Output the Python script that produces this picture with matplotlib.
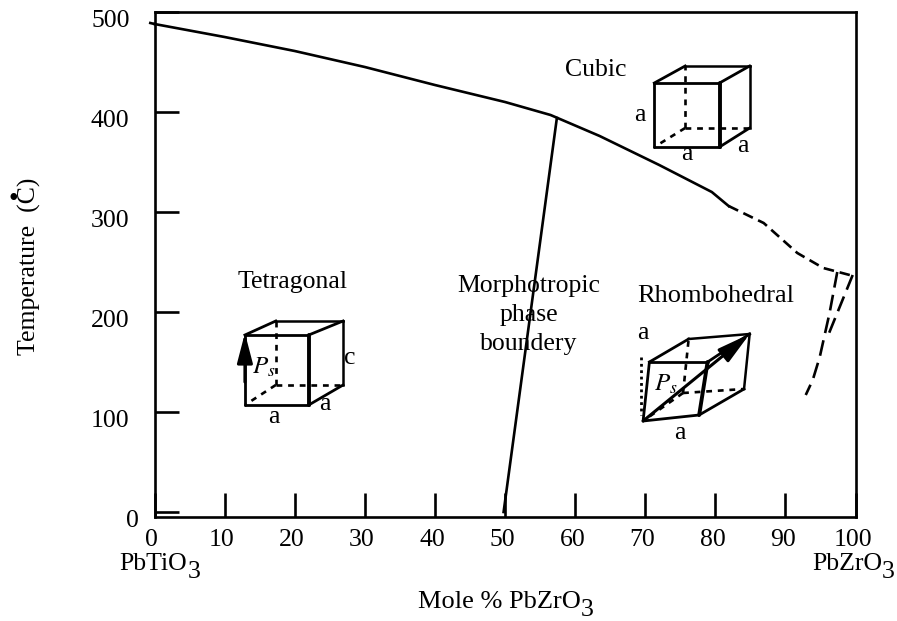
import matplotlib
matplotlib.use("Agg")
import matplotlib.pyplot as plt
from matplotlib.transforms import ScaledTranslation

plt.rcParams['font.family'] = ['Liberation Serif', 'DejaVu Serif']

# phase boundaries (mole % PbZrO3, temperature in C)
curie_x = [0, 10, 20, 30, 40, 50, 56.5, 63.5, 72, 79.5, 81.9]
curie_y = [488, 475, 461, 445, 427, 410, 397, 376, 347, 320, 306]
curie_dash_x = [81.9, 86.9, 91.7, 95.4, 99.7]
curie_dash_y = [306, 289, 259, 244, 236]
mpb_x = [49.8, 57.4]
mpb_y = [0, 394]
afe_a_x = [97.4, 96.3, 94.9, 93.9, 92.9]
afe_a_y = [240, 199, 155, 132, 117]
afe_b_x = [99.6, 96.0]
afe_b_y = [237, 175]

x_ticks = [0, 10, 20, 30, 40, 50, 60, 70, 80, 90, 100]
y_ticks = [0, 100, 200, 300, 400, 500]

# unit cell sketches: front tl, tr, br, bl then back tl, tr, br, bl
cubic_front = [(71.3, 429), (80.6, 429), (80.6, 365), (71.3, 365)]
cubic_back = [(75.7, 446), (84.9, 446), (84.9, 384), (75.7, 384)]
tetra_front = [(12.9, 177), (22.0, 177), (22.0, 107), (12.9, 107)]
tetra_back = [(17.3, 191), (26.9, 191), (26.9, 127), (17.3, 127)]
rhomb_front = [(70.6, 150), (78.9, 150), (77.7, 97), (69.7, 91)]
rhomb_back = [(76.2, 173), (84.9, 178), (84.1, 123), (75.4, 119)]


def draw_cell(ax, front, back):
    for i in range(4):
        a, b = front[i], front[(i + 1) % 4]
        w = 2.8 if i == 1 else 2.0
        ax.plot([a[0], b[0]], [a[1], b[1]], color='black', lw=w, solid_capstyle='round')
    # visible back edges
    for i, j in [(0, 1), (1, 2)]:
        ax.plot([back[i][0], back[j][0]], [back[i][1], back[j][1]], color='black', lw=1.8)
    for i in [0, 1, 2]:
        ax.plot([front[i][0], back[i][0]], [front[i][1], back[i][1]], color='black', lw=2.0)
    # hidden edges
    for a, b in [(back[3], back[0]), (back[3], back[2]), (back[3], front[3])]:
        ax.plot([a[0], b[0]], [a[1], b[1]], color='black', lw=1.9, ls=(0, (2.2, 2.2)))


fig = plt.figure(figsize=(8.97, 6.21), dpi=100)
ax = fig.add_axes([154.5 / 897, 1 - 516.7 / 621, 701 / 897, 504.7 / 621])
ax.set_xlim(0, 100)
ax.set_ylim(-4.7, 500)

ax.plot(curie_x, curie_y, color='black', lw=1.9, clip_on=False)
ax.plot([-0.6, 0], [489, 488], color='black', lw=1.9, clip_on=False)
ax.plot(curie_dash_x, curie_dash_y, color='black', lw=1.9, ls=(0, (4, 2.2)))
ax.plot(mpb_x, mpb_y, color='black', lw=1.9)
ax.plot(afe_a_x, afe_a_y, color='black', lw=1.9, ls=(0, (6, 2.8)))
ax.plot(afe_b_x, afe_b_y, color='black', lw=1.9, ls=(0, (6, 2.8)))

draw_cell(ax, cubic_front, cubic_back)
draw_cell(ax, tetra_front, tetra_back)
draw_cell(ax, rhomb_front, rhomb_back)

# polarisation arrows
ax.annotate('', xy=(12.9, 179), xytext=(12.9, 130),
            arrowprops=dict(arrowstyle='-|>,head_length=1.0,head_width=0.26', color='black', lw=2.2,
                            mutation_scale=18, shrinkA=0, shrinkB=0))
ax.annotate('', xy=(84.9, 178), xytext=(69.7, 91),
            arrowprops=dict(arrowstyle='-|>,head_length=1.1,head_width=0.28', color='black', lw=2.2,
                            mutation_scale=18, shrinkA=0, shrinkB=0))
ax.plot([69.4, 69.4], [155, 97], color='black', lw=2.0, ls=(0, (1, 1.3)))

# axes
for s in ax.spines.values():
    s.set_linewidth(1.9)
ax.set_xticks(x_ticks)
ax.set_yticks(y_ticks)
ax.tick_params(axis='both', direction='in', length=17, width=1.9, labelsize=18.5)
ax.tick_params(axis='x', pad=9)
ax.tick_params(axis='y', pad=18)
shift_y = ScaledTranslation(0, -5 / 72, fig.dpi_scale_trans)
for lab in ax.get_yticklabels():
    lab.set_transform(lab.get_transform() + shift_y)
# the zero sits closer to the axis than the other labels
zero_lab = ax.get_yticklabels()[0]
zero_lab.set_transform(zero_lab.get_transform() + ScaledTranslation(6.5 / 72, 0, fig.dpi_scale_trans))
shift_x = ScaledTranslation(-2 / 72, 0, fig.dpi_scale_trans)
for lab in ax.get_xticklabels():
    lab.set_transform(lab.get_transform() + shift_x)

fs = 18.5
c = dict(ha='center', va='center', fontsize=fs)
ax.text(63.0, 442, 'Cubic', **c)
ax.text(19.7, 230, 'Tetragonal', **c)
ax.text(53.4, 226, 'Morphotropic', **c)
ax.text(53.4, 197, 'phase', **c)
ax.text(53.4, 168, 'boundery', **c)
ax.text(80.1, 216, 'Rhombohedral', ha='center', va='center', fontsize=19)

# lattice labels
for x, y, s in [(69.3, 397, 'a'), (76.0, 358, 'a'), (84.0, 366, 'a'),
                (17.1, 95, 'a'), (24.3, 108, 'a'), (27.9, 154, 'c'),
                (69.7, 179, 'a'), (74.9, 79, 'a')]:
    ax.text(x, y, s, **c)
ax.text(15.6, 145, '$P_s$', fontsize=18, ha='center', va='center', math_fontfamily='stix')
ax.text(73.0, 128, '$P_s$', fontsize=18, ha='center', va='center', math_fontfamily='stix')

# end member names with the large lowered 3
ax.text(-5.0, -52, 'PbTiO', ha='left', va='center', fontsize=fs, clip_on=False)
ax.text(5.7, -60, '3', ha='center', va='center', fontsize=fs, clip_on=False)
ax.text(93.8, -52, 'PbZrO', ha='left', va='center', fontsize=fs, clip_on=False)
ax.text(104.7, -60, '3', ha='center', va='center', fontsize=fs, clip_on=False)

ax.text(37.6, -90, 'Mole % PbZrO', ha='left', va='center', fontsize=19, clip_on=False)
ax.text(61.7, -98, '3', ha='center', va='center', fontsize=fs, clip_on=False)
ax.text(-17.9, 246, 'Temperature  (C)', rotation=90, ha='center', va='center', fontsize=fs,
        clip_on=False)
ax.text(-20.2, 312, '\u2022', ha='center', va='center', fontsize=20, clip_on=False)

fig.savefig('out.png', dpi=100)
